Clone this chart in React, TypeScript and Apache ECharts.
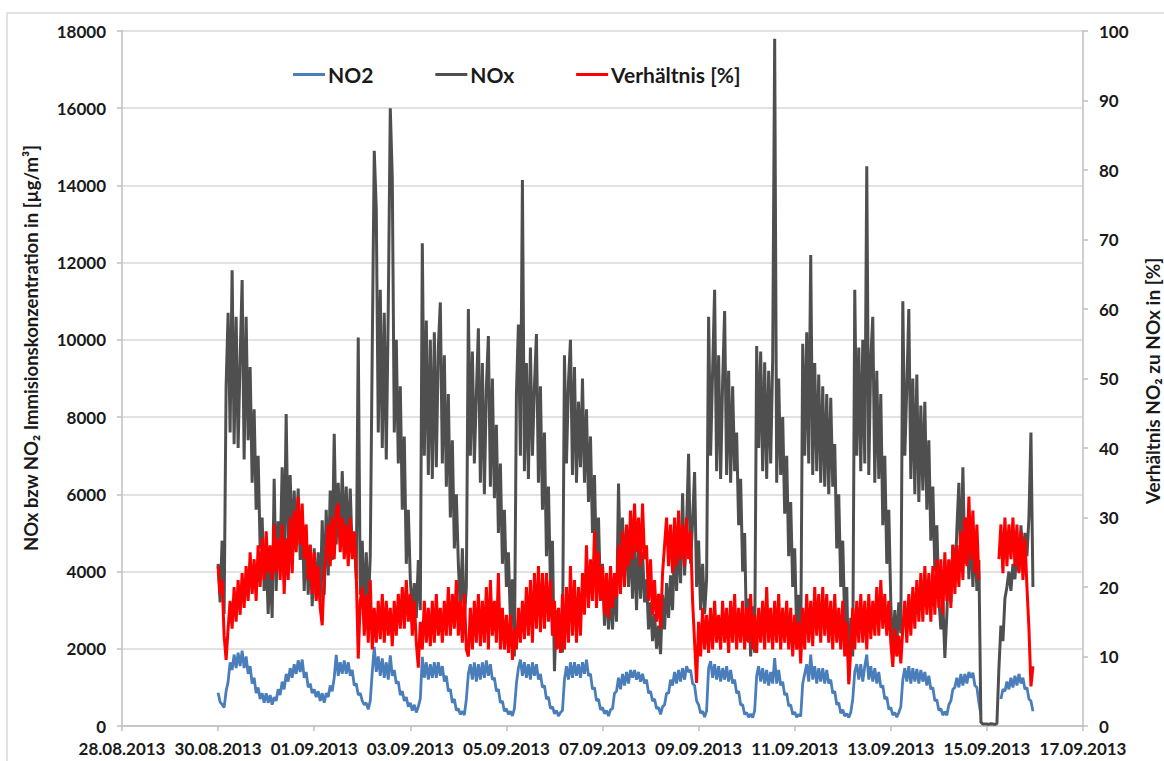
import React, { useEffect, useRef } from 'react';
import * as echarts from 'echarts';

// x axis: hours since 28.08.2013 00:00; ticks every 2 days
const dateLabels = [
  '28.08.2013', '30.08.2013', '01.09.2013', '03.09.2013', '05.09.2013', '07.09.2013',
  '09.09.2013', '11.09.2013', '13.09.2013', '15.09.2013', '17.09.2013',
];
const FIRST_HOUR = 48; // first sample: 30.08.2013 00:00, hourly samples

// NOx [µg/m³], hourly from 30.08.2013 00:00
const noxValues = [
  4200, 3200, 4800, 2900, 8800, 10700, 7600, 11800, 7300, 10600, 7200, 9500, 11550, 6900, 10600, 7400, 9300, 6300, 8200, 5600, 7000, 4600, 5400, 3500,
  4500, 2900, 4200, 2800, 6400, 3500, 5300, 4300, 6700, 4200, 8080, 4500, 6500, 4600, 6100, 4700, 6150, 4300, 5400, 3500, 5000, 3400, 4700, 3100,
  4600, 3300, 4500, 3200, 5330, 3400, 5600, 3900, 6100, 4300, 7570, 4700, 6300, 4700, 6600, 4800, 6200, 4600, 6150, 4500, 5000, 3800, 10060, 3400,
  4800, 2900, 4500, 3000, 4400, 9800, 14900, 13400, 7600, 11300, 7200, 10700, 6900, 10800, 16000, 14200, 7600, 10000, 6800, 8800, 5600, 7500, 4200, 5600,
  3800, 2900, 3700, 2800, 4300, 3000, 12500, 7000, 10500, 6500, 10000, 6400, 10200, 6700, 9800, 10970, 6800, 9600, 6200, 8600, 5400, 7400, 4600, 6000,
  4200, 3000, 4600, 2800, 3600, 10800, 7000, 9700, 6800, 8600, 10300, 6300, 9400, 6000, 8800, 10100, 6200, 9000, 5900, 7800, 5000, 6800, 4200, 5600,
  3600, 4500, 2700, 3800, 1800, 8600, 10400, 7000, 14140, 6600, 9400, 6400, 9800, 7000, 8800, 10150, 6300, 8800, 5600, 7600, 4400, 6200, 3600, 4800,
  1420, 3000, 2000, 2800, 1900, 9600, 6800, 8900, 10000, 6500, 9300, 6300, 8400, 6700, 9000, 6300, 8200, 5800, 7500, 5000, 6500, 4000, 5400, 3300,
  4200, 2600, 3700, 2500, 3600, 2500, 3800, 2700, 6280, 4000, 5400, 3800, 5200, 3600, 5000, 3300, 4700, 3000, 4800, 3300, 4500, 3200, 3800, 2500,
  3200, 2200, 2900, 2000, 2600, 1860, 3400, 2500, 3700, 2800, 3900, 3000, 4800, 3500, 5000, 3700, 6030, 3900, 5200, 7050, 4200, 5300, 6580, 3600,
  4800, 3000, 4200, 2900, 3800, 10600, 7000, 9200, 11300, 6600, 9600, 6400, 8900, 10750, 6500, 9200, 6300, 8800, 6600, 7600, 5200, 6400, 4000, 5000,
  2200, 3300, 1800, 3100, 1900, 9840, 7200, 9700, 6600, 9420, 6400, 9200, 6800, 9500, 17800, 6300, 9000, 6500, 8000, 5500, 7000, 4400, 5800, 3600,
  4600, 2400, 3400, 1900, 9900, 7000, 10200, 6800, 12200, 6500, 9400, 6600, 9100, 6300, 8800, 6200, 8600, 6000, 8500, 6200, 7300, 4600, 6000, 3600,
  4800, 2600, 3600, 1160, 2800, 1800, 11300, 7000, 9800, 6600, 10000, 6800, 14500, 6500, 9500, 10600, 6300, 9200, 6400, 8600, 5200, 7000, 4200, 5600,
  3200, 1850, 3000, 2100, 3200, 2400, 11000, 7000, 8800, 10800, 6400, 9000, 6000, 9100, 5800, 8300, 6100, 8400, 5600, 7400, 4800, 6200, 4000, 5200,
  3300, 2500, 3200, 1760, 2900, 4300, 3200, 4700, 3600, 5100, 6300, 4000, 6700, 4200, 5400, 3800, 5200, 3600, 5000, 3500, 4300, 100, 50, 50,
  50, 40, 60, 50, 40, 60, 1500, 2600, 2200, 3300, 3600, 4000, 3500, 4200, 3800, 4600, 4000, 5200, 4300, 5000, 4400, 5400, 7600, 3600,
];

// NO2 [µg/m³], hourly from 30.08.2013 00:00
const no2Values: (number | null)[] = [
  860, 620, 560, 480, 900, 1150, 1650, 1450, 1850, 1500, 1900, 1550, 1950, 1500, 1800, 1350, 1550, 1100, 1250, 850, 1000, 700, 850, 600,
  850, 600, 800, 550, 750, 650, 950, 800, 1150, 950, 1350, 1150, 1500, 1250, 1600, 1350, 1700, 1400, 1720, 1250, 1400, 1000, 1100, 850,
  950, 750, 900, 650, 850, 600, 850, 750, 1050, 900, 1250, 1840, 1300, 1650, 1350, 1700, 1350, 1650, 1300, 1450, 1050, 1100, 800, 850,
  650, 550, 600, 430, 650, 1400, 2050, 1400, 1800, 1300, 1750, 1250, 1650, 1200, 1830, 1300, 1450, 1100, 1150, 800, 900, 650, 750, 500,
  600, 400, 550, 350, 500, 700, 1790, 1250, 1650, 1200, 1600, 1250, 1650, 1250, 1650, 1300, 1550, 1150, 1300, 900, 950, 600, 700, 400,
  450, 300, 380, 280, 700, 1350, 1600, 1200, 1650, 1150, 1600, 1200, 1650, 1250, 1700, 1300, 1600, 1200, 1250, 900, 950, 600, 650, 380,
  450, 300, 380, 260, 450, 1100, 1500, 1720, 1300, 1650, 1250, 1600, 1200, 1650, 1300, 1600, 1200, 1350, 1000, 1050, 700, 750, 450, 500,
  320, 400, 260, 350, 400, 1200, 1550, 1200, 1650, 1250, 1650, 1300, 1600, 1250, 1650, 1350, 1720, 1300, 1350, 950, 1000, 650, 700, 420,
  480, 320, 400, 260, 420, 450, 850, 900, 1250, 950, 1350, 1050, 1400, 1100, 1450, 1250, 1450, 1200, 1400, 1150, 1350, 1100, 1200, 850,
  900, 650, 700, 450, 480, 300, 500, 550, 850, 850, 1200, 1050, 1400, 1100, 1450, 1150, 1500, 1200, 1550, 1400, 1450, 1100, 1050, 650,
  550, 330, 380, 230, 400, 1500, 1680, 1250, 1600, 1200, 1550, 1150, 1500, 1200, 1550, 1150, 1450, 1100, 1200, 850, 900, 550, 550, 300,
  350, 230, 310, 220, 400, 1300, 1550, 1150, 1500, 1100, 1450, 1050, 1400, 1100, 1760, 1100, 1450, 1050, 1150, 800, 850, 520, 550, 300,
  360, 230, 300, 250, 1100, 1350, 1600, 1150, 1850, 1200, 1550, 1100, 1500, 1150, 1500, 1100, 1450, 1100, 1200, 850, 900, 550, 600, 330,
  420, 260, 320, 220, 350, 700, 1400, 1600, 1200, 1600, 1150, 1550, 1850, 1200, 1550, 1150, 1500, 1100, 1400, 1000, 1050, 700, 750, 430,
  480, 280, 350, 230, 350, 500, 1200, 1500, 1150, 1550, 1100, 1500, 1150, 1480, 1100, 1450, 1150, 1400, 1050, 1300, 950, 1000, 650, 680,
  400, 450, 280, 370, 280, 550, 650, 950, 1000, 1250, 1000, 1350, 1050, 1350, 1100, 1400, 1250, 1380, 1050, 1000, 600, 300, null, null,
  null, null, null, null, null, null, null, 700, 950, 900, 1150, 950, 1250, 1000, 1300, 1050, 1350, 1100, 1250, 950, 1000, 700, 650, 380,
];

// Verhältnis NO2 / NOx [%], hourly from 30.08.2013 00:00
const ratioValues: (number | null)[] = [
  23, 19, 21, 13, 9.5, 14, 18, 14, 20, 15, 21, 16, 22, 17, 23, 18, 25, 19, 24, 18, 26, 20, 27, 21,
  28, 22, 26, 21, 29, 22, 27, 21, 29, 19, 27, 21, 30, 22, 31, 25, 33, 26, 32, 24, 29, 21, 26, 19,
  25, 18, 23, 17, 14.5, 22, 25, 29, 23, 30, 24, 31, 32, 25, 30, 24, 29, 23, 30, 24, 28, 22, 9.7, 18,
  20, 13, 19, 12, 21, 11, 17, 12, 18, 12.5, 19, 12, 18, 13, 17, 11.5, 18, 13, 19, 14, 20, 14, 21, 15,
  19, 13, 18, 12, 8.4, 15, 11, 18, 12, 17, 11.5, 18, 12, 19, 13, 17, 12, 18, 13, 20, 13, 19, 14, 21,
  13, 18, 12, 19, 11, 10, 17, 11, 18, 12, 19, 11.5, 18, 12, 20, 11, 21, 13, 18, 12, 22, 11, 17, 11,
  16, 10.5, 16, 9.5, 14, 11, 17, 12, 18, 12.5, 20, 13, 21, 12, 22, 14, 23, 13.5, 22, 14, 22, 15, 21, 13,
  18, 11, 17, 10.5, 19, 11, 20, 12, 23, 13, 21, 12, 20, 13, 22, 16, 26, 17, 24, 18, 28, 17, 25, 18,
  23, 16, 22, 15.5, 23, 17, 22, 18.5, 26, 19, 28, 20, 29, 23, 31, 24, 32, 25, 30, 23, 32, 24, 26, 18,
  24, 16, 21, 15, 19, 14, 22, 26, 30, 23, 29, 22, 30, 23, 31, 24, 29, 23, 30, 24, 28, 18, 12, 6.2,
  15, 10, 17, 11, 16, 10.5, 17, 11, 18, 12, 16, 11, 18, 12, 17, 10.5, 18, 12, 19, 11, 17, 12, 18, 11,
  17, 12, 19, 11, 16, 10.5, 17, 12, 18, 11, 20, 12, 17, 11, 18, 12, 19, 11, 17, 12, 18, 11, 17, 10,
  16, 11, 15, 9, 17, 11, 19, 12, 18, 11.5, 20, 13, 19, 12, 20, 13, 19, 12, 18, 11, 19, 12, 17, 11,
  18, 10, 15, 6, 11, 17, 11, 18, 12, 19, 12, 18, 11, 19, 12.5, 18, 13, 20, 13, 21, 14, 19, 13, 18,
  12, 8.5, 14, 10, 13, 9, 14, 18, 12, 19, 13, 20, 14, 21, 15, 22, 15, 23, 16, 22, 15, 23, 16, 24,
  17, 24, 16, 25, 18, 24, 17, 26, 19, 26, 20, 28, 21, 30, 23, 33, 24, 31, 22, 29, 21, null, null, null,
  null, null, null, null, null, null, 24, 29, 22, 30, 23, 29, 24, 30, 23, 29, 22, 28, 21, 27, 20, 14, 5.7, 8.6,
];

const FONT = 'Lato, sans-serif';
const TEXT = '#1a1a1a';
const AXIS_GREY = '#bfbfbf';

const toPairs = (vals: (number | null)[]) => vals.map((v, i) => [FIRST_HOUR + i, v]);

export default function App() {
  const ref = useRef<HTMLDivElement>(null);
  useEffect(() => {
    document.body.style.margin = '0';
    if (!ref.current) return;
    const chart = echarts.init(ref.current, undefined, { renderer: 'svg' });
    const labelStyle = { fontFamily: FONT, fontWeight: 'bold' as const, fontSize: 17, color: TEXT };
    chart.setOption({
      animation: false,
      backgroundColor: '#ffffff',
      grid: { left: 122, right: 81, top: 31, bottom: 35, containLabel: false },
      legend: {
        left: 288,
        top: 59,
        icon: 'rect',
        itemWidth: 32,
        itemHeight: 3,
        itemGap: 62,
        textStyle: { fontFamily: FONT, fontWeight: 'bold', fontSize: 21, color: TEXT, padding: [0, 0, 0, -2] },
        data: ['NO2', 'NOx', 'Verhältnis [%]'],
      },
      graphic: [
        {
          type: 'rect', z: -10, silent: true,
          shape: { x: 7, y: 13, width: 1200, height: 800 },
          style: { fill: 'none', stroke: '#d9d9d9', lineWidth: 1.5 },
        },
        {
          type: 'text', x: 31, y: 348, rotation: Math.PI / 2,
          style: {
            text: 'NOx bzw NO₂ Immisionskonzentration in [µg/m³]',
            fontFamily: FONT, fontWeight: 'bold', fontSize: 18.5, fill: TEXT,
            textAlign: 'center', textVerticalAlign: 'middle',
          },
        },
        {
          type: 'text', x: 1152, y: 381, rotation: Math.PI / 2,
          style: {
            text: 'Verhältnis NO₂ zu NOx in [%]',
            fontFamily: FONT, fontWeight: 'bold', fontSize: 19, fill: TEXT,
            textAlign: 'center', textVerticalAlign: 'middle',
          },
        },
      ],
      xAxis: {
        type: 'value', min: 0, max: 480, interval: 48,
        axisLine: { show: true, onZero: false, lineStyle: { color: AXIS_GREY, width: 1.5 } },
        axisTick: { show: true, length: 5, lineStyle: { color: AXIS_GREY, width: 1.5 } },
        splitLine: { show: false },
        axisLabel: {
          ...labelStyle, margin: 14, showMinLabel: true, showMaxLabel: true,
          formatter: (v: number) => dateLabels[Math.round(v / 48)] ?? '',
        },
      },
      yAxis: [
        {
          type: 'value', min: 0, max: 18000, interval: 2000, position: 'left',
          axisLine: { show: true, lineStyle: { color: AXIS_GREY, width: 1.5 } },
          axisTick: { show: true, length: 5, lineStyle: { color: AXIS_GREY, width: 1.5 } },
          splitLine: { show: true, lineStyle: { color: '#d9d9d9', width: 1.5 } },
          axisLabel: { ...labelStyle, margin: 16, formatter: (v: number) => String(v) },
        },
        {
          type: 'value', min: 0, max: 100, interval: 10, position: 'right',
          axisLine: { show: true, lineStyle: { color: AXIS_GREY, width: 1.5 } },
          axisTick: { show: true, length: 5, lineStyle: { color: AXIS_GREY, width: 1.5 } },
          splitLine: { show: false },
          axisLabel: { ...labelStyle, margin: 16, formatter: (v: number) => String(v) },
        },
      ],
      series: [
        {
          name: 'NO2', type: 'line', yAxisIndex: 0, showSymbol: false, connectNulls: false,
          lineStyle: { color: '#4a7ebb', width: 2.8 }, itemStyle: { color: '#4a7ebb' },
          data: toPairs(no2Values),
        },
        {
          name: 'NOx', type: 'line', yAxisIndex: 0, showSymbol: false, connectNulls: false,
          lineStyle: { color: '#4f4f4f', width: 3 }, itemStyle: { color: '#4f4f4f' },
          data: toPairs(noxValues),
        },
        {
          name: 'Verhältnis [%]', type: 'line', yAxisIndex: 1, showSymbol: false, connectNulls: false,
          lineStyle: { color: '#ff0000', width: 3 }, itemStyle: { color: '#ff0000' },
          data: toPairs(ratioValues),
        },
      ],
    });
    return () => chart.dispose();
  }, []);
  return <div ref={ref} style={{ width: 1164, height: 761 }} />;
}
